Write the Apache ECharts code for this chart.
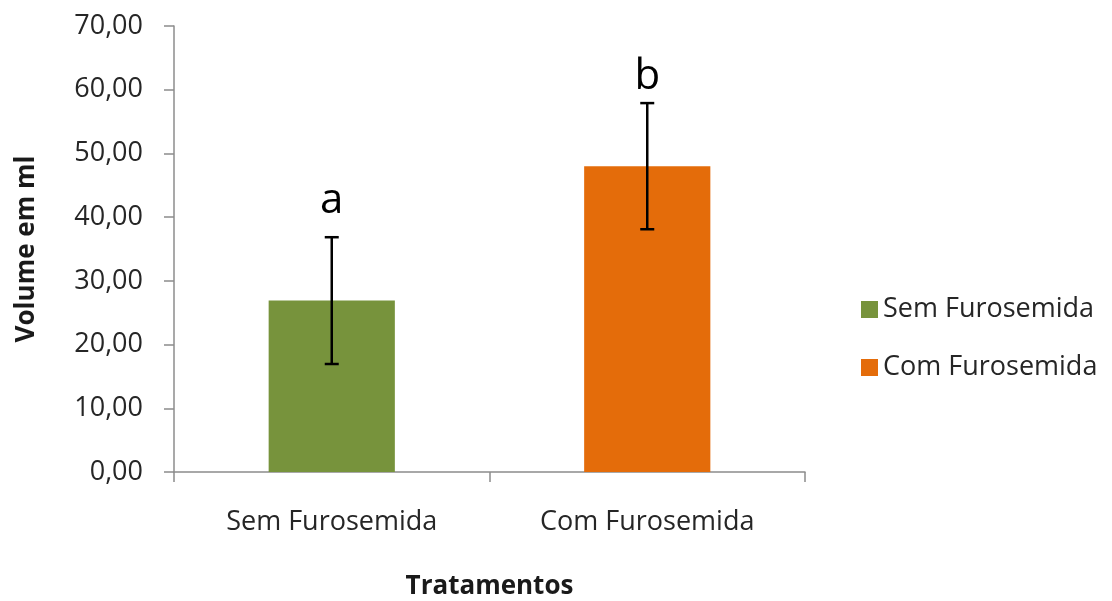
<!DOCTYPE html>
<html>
<head>
<meta charset="utf-8">
<script src="https://cdn.jsdelivr.net/npm/echarts@6/dist/echarts.min.js"></script>
<style>
html,body{margin:0;padding:0;background:#fff;}
#chart{width:1112px;height:601px;}
</style>
</head>
<body>
<div id="chart"></div>
<script>
var categories = ['Sem Furosemida', 'Com Furosemida'];
var seriesNames = ['Sem Furosemida', 'Com Furosemida'];
var means = [26.9, 48.0];
var errors = [9.95, 9.9];
var letters = ['a', 'b'];
var letterValues = [42.5, 62.0];
var colors = ['#77933c', '#e46c0a'];

var FONT = 'Open Sans';
var chart = echarts.init(document.getElementById('chart'));

var barSeries = seriesNames.map(function (name, i) {
  return {
    name: name,
    type: 'bar',
    stack: 'all',
    barWidth: '40%',
    itemStyle: { color: colors[i] },
    data: categories.map(function (c, j) { return j === i ? means[i] : '-'; })
  };
});

var option = {
  animation: false,
  backgroundColor: '#fff',
  textStyle: { fontFamily: FONT },
  grid: { left: 174, right: 307, top: 26, bottom: 129, outerBoundsMode: 'none', containLabel: false },
  legend: {
    orient: 'vertical',
    left: 856,
    top: 291,
    itemWidth: 17,
    itemHeight: 17,
    itemGap: 31,
    icon: 'rect',
    textStyle: { fontFamily: FONT, fontSize: 27, color: '#262626' },
    data: seriesNames
  },
  xAxis: {
    type: 'category',
    data: categories,
    name: 'Tratamentos',
    nameLocation: 'middle',
    nameGap: 102,
    nameTextStyle: { fontFamily: FONT, fontSize: 26, fontWeight: 'bold', color: '#1a1a1a' },
    axisLine: { lineStyle: { color: '#8c8c8c', width: 1.5 } },
    axisTick: { show: true, length: 10, alignWithLabel: false, lineStyle: { color: '#8c8c8c', width: 1.5 } },
    axisLabel: { fontFamily: FONT, fontSize: 27, color: '#262626', margin: 37 }
  },
  yAxis: {
    type: 'value',
    min: 0,
    max: 70,
    interval: 10,
    name: 'Volume em ml',
    nameLocation: 'middle',
    nameGap: 134,
    nameRotate: 90,
    nameTextStyle: { fontFamily: FONT, fontSize: 26, fontWeight: 'bold', color: '#1a1a1a' },
    splitLine: { show: false },
    axisLine: { show: true, lineStyle: { color: '#8c8c8c', width: 1.5 } },
    axisTick: { show: true, length: 10, lineStyle: { color: '#8c8c8c', width: 1.5 } },
    axisLabel: {
      fontFamily: FONT, fontSize: 27, color: '#262626', margin: 31,
      formatter: function (v) { return v.toFixed(2).replace('.', ','); }
    }
  },
  series: barSeries.concat([{
    type: 'custom',
    name: 'err',
    z: 10,
    silent: true,
    data: means.map(function (m, i) { return [i, m, errors[i]]; }),
    encode: { x: 0, y: 1 },
    renderItem: function (params, api) {
      var idx = api.value(0);
      var m = api.value(1);
      var e = api.value(2);
      var hi = api.coord([idx, m + e]);
      var lo = api.coord([idx, m - e]);
      var lp = api.coord([idx, letterValues[params.dataIndex]]);
      var cap = 7;
      var st = { stroke: '#000', lineWidth: 2.5 };
      return {
        type: 'group',
        children: [
          { type: 'line', shape: { x1: hi[0], y1: hi[1], x2: lo[0], y2: lo[1] }, style: st },
          { type: 'line', shape: { x1: hi[0] - cap, y1: hi[1], x2: hi[0] + cap, y2: hi[1] }, style: st },
          { type: 'line', shape: { x1: lo[0] - cap, y1: lo[1], x2: lo[0] + cap, y2: lo[1] }, style: st },
          { type: 'text', style: { text: letters[params.dataIndex], x: lp[0], y: lp[1], align: 'center', verticalAlign: 'middle', fontFamily: FONT, fontSize: 42, fill: '#000' } }
        ]
      };
    }
  }])
};
chart.setOption(option);
</script>
</body>
</html>
